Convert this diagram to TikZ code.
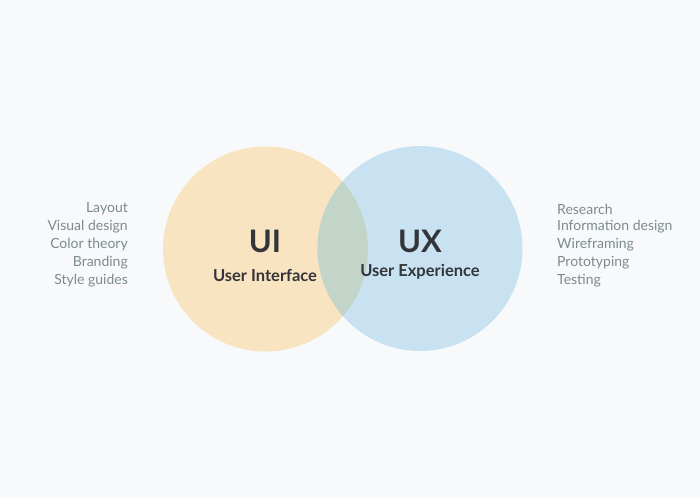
\documentclass[tikz,border=0pt]{standalone}
\usepackage{fontspec}
\setmainfont{Lato}
\definecolor{bgcol}{HTML}{F8F9FB}
\definecolor{uicol}{HTML}{F9E4C2}
\definecolor{uxcol}{HTML}{C8E2F1}
\definecolor{mixcol}{HTML}{C3D4C9}
\definecolor{titlecol}{HTML}{333538}
\definecolor{listcol}{HTML}{7D8B8A}
\begin{document}
\begin{tikzpicture}[x=1pt, y=-1pt,
  title/.style={font=\fontsize{31}{33}\selectfont\bfseries, text=titlecol},
  sub/.style={font=\fontsize{16.5}{18}\selectfont\bfseries, text=titlecol},
  item/.style={font=\fontsize{14}{16}\selectfont, text=listcol, inner sep=0pt}]

% background
\fill[bgcol] (0, 0) rectangle (700, 498);

% circles
\fill[uicol] (265.5, 249) circle (102.5);
\fill[uxcol] (420, 248.5) circle (102.5);
\begin{scope}
  \clip (265.5, 249) circle (102.5);
  \fill[mixcol] (420, 248.5) circle (102.5);
\end{scope}

% labels
\node[title] (ui) at (265, 241) {UI};
\node[sub] (uisub) at (265, 275) {User Interface};
\node[title] (ux) at (420, 241) {UX};
\node[sub] (uxsub) at (420, 272) {User Experience};

% lists
\foreach \t [count=\i] in {Layout, Visual design, Color theory, Branding, Style guides}
  \node[item, anchor=east] (l\i) at (128, 191+18*\i) {\t};
\foreach \t [count=\i] in {Research, Information design, Wireframing, Prototyping, Testing}
  \node[item, anchor=west] (r\i) at (557, 191+18*\i) {\t};

\end{tikzpicture}
\end{document}
